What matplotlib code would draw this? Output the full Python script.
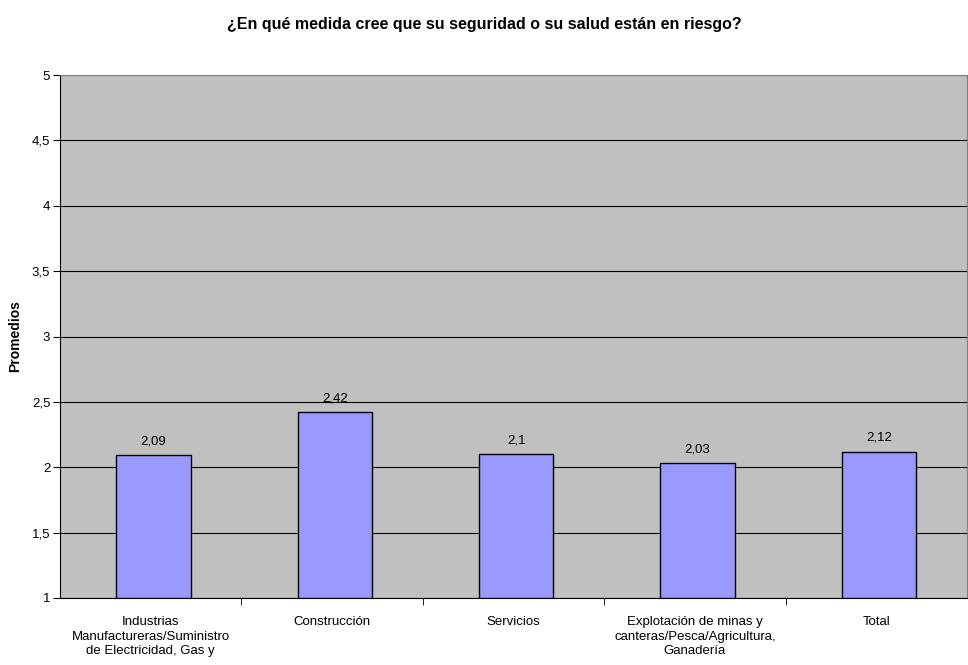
import matplotlib.pyplot as plt
from matplotlib.ticker import FuncFormatter, MultipleLocator

plt.rcParams['font.family'] = ['Liberation Sans', 'DejaVu Sans']

categories = [
    'Industrias\nManufactureras/Suministro\nde Electricidad, Gas y',
    'Construcción',
    'Servicios',
    'Explotación de minas y\ncanteras/Pesca/Agricultura,\nGanadería',
    'Total',
]
values = [2.09, 2.42, 2.10, 2.03, 2.12]
value_labels = ['2,09', '2,42', '2,1', '2,03', '2,12']

fig = plt.figure(figsize=(9.68, 6.65), dpi=100)
ax = fig.add_axes([60 / 968, 1 - 598 / 665, 907 / 968, 523 / 665])
ax.set_facecolor('#C0C0C0')

x = list(range(len(categories)))
ax.bar([xi + 0.015 for xi in x], [v - 1 for v in values], bottom=1, width=0.41,
       color='#9999FF', edgecolor='black', linewidth=1, zorder=3)

for xi, v, lab in zip(x, values, value_labels):
    ax.text(xi + 0.015, v + 0.06, lab, ha='center', va='bottom', fontsize=9.5)

ax.set_xlim(-0.5, len(categories) - 0.5)
ax.set_ylim(1, 5)
ax.yaxis.set_major_locator(MultipleLocator(0.5))
ax.yaxis.set_major_formatter(FuncFormatter(lambda v, p: ('%g' % v).replace('.', ',')))
ax.grid(axis='y', color='black', linewidth=0.8, zorder=1)
ax.set_axisbelow(True)

ax.set_xticks(x)
ax.set_xticklabels(categories, fontsize=9.5, linespacing=1.3)
ax.set_xticks([i + 0.5 for i in x[:-1]], minor=True)
ax.tick_params(axis='x', which='major', length=0, pad=13)
ax.tick_params(axis='x', which='minor', length=5, color='black', direction='out')
ax.tick_params(axis='y', length=5, direction='out', labelsize=9.5, pad=2)

ax.spines['top'].set_color('#808080')
ax.spines['right'].set_color('#808080')
ax.spines['left'].set_color('black')
ax.spines['bottom'].set_color('black')

ax.set_ylabel('Promedios', fontsize=10, fontweight='bold', labelpad=7)
fig.suptitle('¿En qué medida cree que su seguridad o su salud están en riesgo?',
             fontsize=11.5, fontweight='bold', y=1 - 24 / 665, va='center')

fig.savefig('out.png', dpi=100)
